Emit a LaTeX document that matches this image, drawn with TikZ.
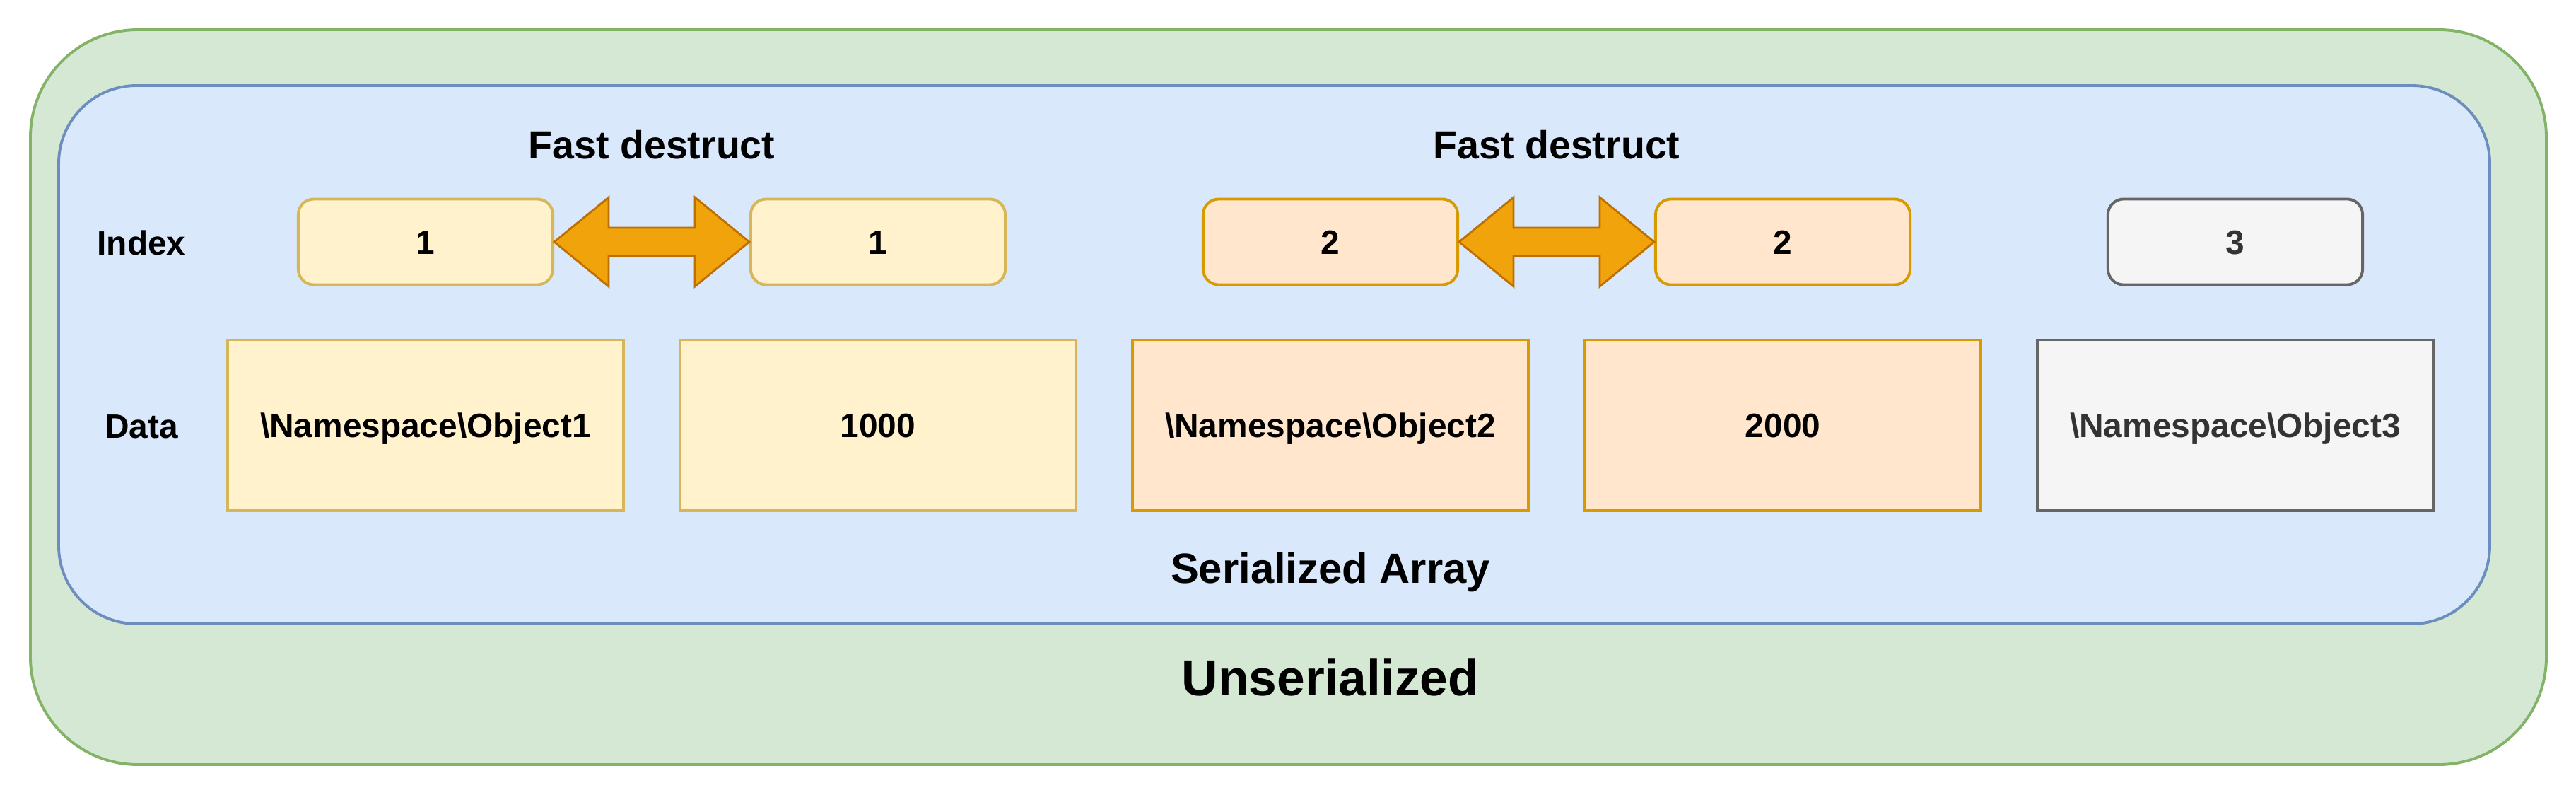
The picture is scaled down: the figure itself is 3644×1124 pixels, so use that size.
\documentclass[tikz,border=0pt]{standalone}
\usepackage{fontspec}
\setmainfont{Liberation Sans}
\usetikzlibrary{calc}

\definecolor{greenfill}{HTML}{D5E8D4}
\definecolor{greenline}{HTML}{82B366}
\definecolor{bluefill}{HTML}{DAE8FC}
\definecolor{blueline}{HTML}{6C8EBF}
\definecolor{yellowfill}{HTML}{FFF2CC}
\definecolor{yellowline}{HTML}{D6B656}
\definecolor{orangefill}{HTML}{FFE6CC}
\definecolor{orangeline}{HTML}{D79B00}
\definecolor{grayfill}{HTML}{F5F5F5}
\definecolor{grayline}{HTML}{666666}
\definecolor{graytext}{HTML}{333333}
\definecolor{arrowfill}{HTML}{F0A30A}
\definecolor{arrowline}{HTML}{BD7000}

\tikzset{
	idxbox/.style={draw, rounded corners=0.22cm, line width=1.1pt, minimum width=3.6cm, minimum height=1.21cm, text height=12.4pt, text depth=2.5pt, font=\fontsize{13.6}{16}\selectfont\bfseries},
	databox/.style={draw, line width=1.1pt, minimum width=5.6cm, minimum height=2.41cm, text height=12.4pt, text depth=2.5pt, font=\fontsize{13.6}{16}\selectfont\bfseries},
	yellowbox/.style={fill=yellowfill, draw=yellowline},
	orangebox/.style={fill=orangefill, draw=orangeline},
	graybox/.style={fill=grayfill, draw=grayline, text=graytext},
	rowlabel/.style={font=\fontsize{13.6}{16}\selectfont\bfseries},
	title/.style={font=\fontsize{15.8}{19}\selectfont\bfseries},
	swap/.style={fill=arrowfill, draw=arrowline, line width=0.8pt, line join=miter}
}

% double arrow between two index boxes
\newcommand{\swaparrow}[2]{%
	\draw[swap] (#1.east) -- ++(77,-63) -- ++(0,43) -- ($(#2.west)+(-77,-20)$) -- ++(0,-43)
		-- (#2.west) -- ++(-77,63) -- ++(0,-43) -- ($(#1.east)+(77,20)$) -- ++(0,43) -- cycle;}

\begin{document}
\begin{tikzpicture}[x=0.01cm, y=-0.01cm]
		\useasboundingbox (0,0) rectangle (3644,1124);
		\draw[fill=greenfill, draw=greenline, line width=1.1pt, rounded corners=1.52cm] (43,42) rectangle (3602,1081);
		\draw[fill=bluefill, draw=blueline, line width=1.1pt, rounded corners=1.1cm] (83,121) rectangle (3522,882);

		\node[rowlabel] (index) at (200,343) {Index};
		\node[rowlabel] (data) at (200,603) {Data};

		\node[idxbox, yellowbox] (i1) at (602,342) {1};
		\node[idxbox, yellowbox] (i2) at ($(i1)+(640,0)$) {1};
		\node[idxbox, orangebox] (i3) at ($(i2)+(640,0)$) {2};
		\node[idxbox, orangebox] (i4) at ($(i3)+(640,0)$) {2};
		\node[idxbox, graybox] (i5) at ($(i4)+(640,0)$) {3};

		\node[databox, yellowbox] (d1) at (602,601) {\textbackslash Namespace\textbackslash Object1};
		\node[databox, yellowbox] (d2) at ($(d1)+(640,0)$) {1000};
		\node[databox, orangebox] (d3) at ($(d2)+(640,0)$) {\textbackslash Namespace\textbackslash Object2};
		\node[databox, orangebox] (d4) at ($(d3)+(640,0)$) {2000};
		\node[databox, graybox] (d5) at ($(d4)+(640,0)$) {\textbackslash Namespace\textbackslash Object3};

		\swaparrow{i1}{i2}
		\swaparrow{i3}{i4}

		\node[title] (fd1) at ($(i1)!0.5!(i2)+(0,-137)$) {Fast destruct};
		\node[title] (fd2) at ($(i3)!0.5!(i4)+(0,-137)$) {Fast destruct};

		\node[title, anchor=base, font=\fontsize{17}{20}\selectfont\bfseries] (serial) at (1882,824) {Serialized Array};
		\node[anchor=base, font=\fontsize{20.3}{24}\selectfont\bfseries] (unserial) at ($(serial.base)+(0,159)$) {Unserialized};
	\end{tikzpicture}
\end{document}
